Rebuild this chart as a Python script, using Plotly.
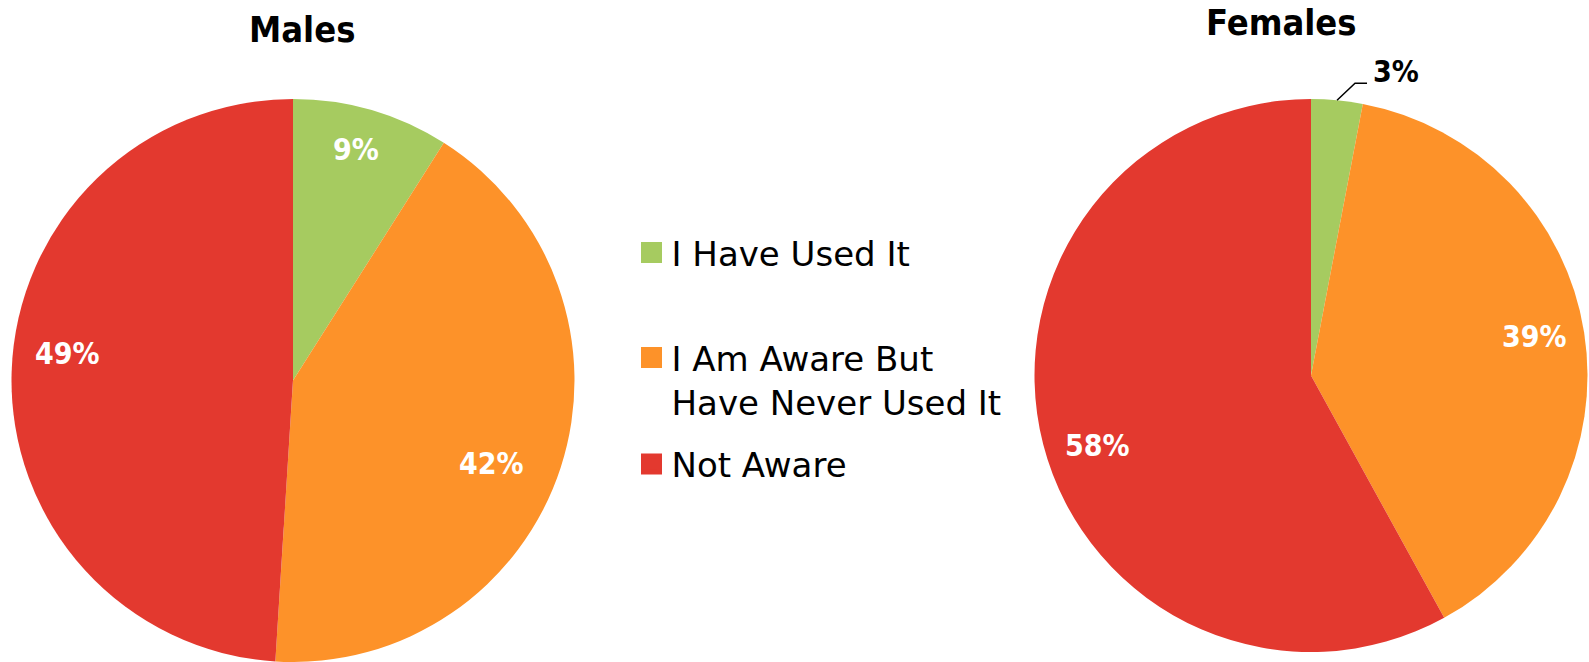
import math
import plotly.graph_objects as go

W, H = 1589, 662

# ---- data -------------------------------------------------------------
categories = ["I Have Used It", "I Am Aware But Have Never Used It", "Not Aware"]
legend_text = ["I Have Used It", "I Am Aware But<br>Have Never Used It", "Not Aware"]
male_pct = [9, 42, 49]
female_pct = [3, 39, 58]
colors = ["#A6CB60", "#FD9229", "#E3392F"]

# ---- geometry (pixels) ------------------------------------------------
# label_place: per slice (angle offset from the slice middle in degrees,
# radial fraction) for the inside value labels
pies = [
    dict(title="Males", values=male_pct, cx=293.0, cy=380.5, r=281.5, title_xy=(302, 30),
         label_place=[(-1.0, 0.85), (4.8, 0.765), (5.0, 0.808)]),
    dict(title="Females", values=female_pct, cx=1311.0, cy=375.5, r=276.5, title_xy=(1281, 23),
         label_place=[(0.0, 1.0), (-0.9, 0.82), (-3.8, 0.813)]),
]
SMALL_SLICE = 5            # slices below this get an outside label with a leader
BOLD = "DejaVu Sans Condensed, DejaVu Sans"


def px(x):
    return x / W


def py(y):
    return 1 - y / H


fig = go.Figure()
annotations = []
shapes = []

for p in pies:
    cx, cy, r = p["cx"], p["cy"], p["r"]
    fig.add_trace(go.Pie(
        labels=categories,
        values=p["values"],
        sort=False,
        direction="clockwise",
        rotation=0,
        marker=dict(colors=colors, line=dict(width=0)),
        textinfo="none",
        hoverinfo="label+percent",
        showlegend=False,
        domain=dict(x=[px(cx - r), px(cx + r)], y=[py(cy + r), py(cy - r)]),
    ))

    annotations.append(dict(
        x=px(p["title_xy"][0]), y=py(p["title_xy"][1]), xref="paper", yref="paper",
        text=p["title"], showarrow=False, xanchor="center", yanchor="middle",
        font=dict(family=BOLD, size=36, color="#000000", weight="bold"),
    ))

    total = sum(p["values"])
    start = 0.0
    for v, (dang, frac) in zip(p["values"], p["label_place"]):
        mid_deg = (start + v / 2) / total * 360
        start += v
        label = f"{v}%"
        if v >= SMALL_SLICE:
            a = math.radians(mid_deg + dang)
            lx = cx + r * frac * math.sin(a)
            ly = cy - r * frac * math.cos(a)
            annotations.append(dict(
                x=px(lx), y=py(ly), xref="paper", yref="paper", text=label,
                showarrow=False, xanchor="center", yanchor="middle",
                font=dict(family=BOLD, size=30, color="#FFFFFF", weight="bold"),
            ))
        else:
            mid = math.radians(mid_deg)
            ax0 = cx + r * math.sin(mid)
            ay0 = cy - r * math.cos(mid)
            ex, ey = ax0 + 18, ay0 - 17
            fx, fy = ex + 12, ey
            shapes.append(dict(
                type="path", xref="paper", yref="paper",
                path=f"M {px(ax0)},{py(ay0)} L {px(ex)},{py(ey)} L {px(fx)},{py(fy)}",
                line=dict(color="#000000", width=1.5),
            ))
            annotations.append(dict(
                x=px(fx + 4), y=py(fy - 12), xref="paper", yref="paper", text=label,
                showarrow=False, xanchor="left", yanchor="middle",
                font=dict(family=BOLD, size=30, color="#000000", weight="bold"),
            ))

# ---- legend: one entry per category, each in its own legend box -------
legend_tops = [224, 329, 435.5]
legend_left = 631.5
legend_names = ["legend", "legend2", "legend3"]
for name, txt, col in zip(legend_names, legend_text, colors):
    fig.add_trace(go.Scatter(
        x=[None], y=[None], mode="markers", name=txt, legend=name,
        marker=dict(symbol="square", size=16, color=col, line=dict(color=col, width=5)),
        showlegend=True, hoverinfo="skip",
    ))

legend_common = dict(
    xanchor="left", yanchor="top", bgcolor="rgba(0,0,0,0)", borderwidth=0,
    font=dict(family="DejaVu Sans", size=34, color="#000000"),
    itemsizing="trace", valign="top", itemclick=False, itemdoubleclick=False,
)
legend_layout = {}
for name, top in zip(legend_names, legend_tops):
    legend_layout[name] = dict(x=px(legend_left), y=py(top), **legend_common)

fig.update_layout(
    width=W, height=H,
    margin=dict(l=0, r=0, t=0, b=0),
    paper_bgcolor="#FFFFFF",
    plot_bgcolor="rgba(0,0,0,0)",
    xaxis=dict(visible=False),
    yaxis=dict(visible=False),
    annotations=annotations,
    shapes=shapes,
    **legend_layout,
)

fig.write_html("out.html")
